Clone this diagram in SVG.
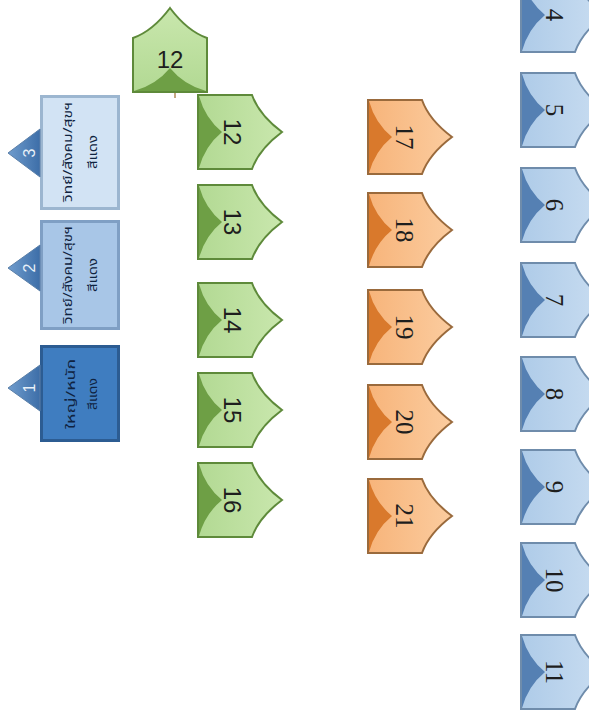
<svg xmlns="http://www.w3.org/2000/svg" xmlns:xlink="http://www.w3.org/1999/xlink" width="589" height="711" viewBox="0 0 589 711">
<style>
  .g-body{fill:url(#gG);stroke:#5e8a3a;stroke-width:2}
  .g-fold{fill:#6e9f45}
  .o-body{fill:url(#gO);stroke:#9a6a3c;stroke-width:2}
  .o-fold{fill:#d9792c}
  .b-body{fill:url(#gB);stroke:#6f8cab;stroke-width:2}
  .b-fold{fill:#5580b3}
  .num-sans{font-family:"Liberation Sans",Arial,sans-serif;font-size:24px;fill:#1e1e1e;text-anchor:middle;dominant-baseline:central}
  .num-serif{font-family:"Liberation Serif","Times New Roman",serif;font-size:25px;fill:#1e1e1e;text-anchor:middle;dominant-baseline:central}
  .thai{font-family:"Noto Sans","Noto Sans Thai","DejaVu Sans",sans-serif;font-size:12px;fill:#0f2340;text-anchor:middle;dominant-baseline:central}
  .tri{fill:url(#gT);stroke:#5a7fa8;stroke-width:1}
  .tri-num{font-family:"Liberation Sans",Arial,sans-serif;font-size:16px;fill:#e8f0f8;text-anchor:middle;dominant-baseline:central}
  .conn{stroke:#b08a5a;stroke-width:1.5;fill:none}
</style>
<defs>
  <linearGradient id="gG" x1="0" y1="0" x2="0" y2="1">
    <stop offset="0" stop-color="#c9e7ad"/>
    <stop offset="1" stop-color="#b2d993"/>
  </linearGradient>
  <linearGradient id="gO" x1="0" y1="0" x2="0" y2="1">
    <stop offset="0" stop-color="#fbcc9f"/>
    <stop offset="1" stop-color="#f7b47a"/>
  </linearGradient>
  <linearGradient id="gB" x1="0" y1="0" x2="0" y2="1">
    <stop offset="0" stop-color="#c9ddf1"/>
    <stop offset="1" stop-color="#aecbe8"/>
  </linearGradient>
  <linearGradient id="gT" x1="0" y1="0" x2="1" y2="0">
    <stop offset="0" stop-color="#6f9ccd"/>
    <stop offset="1" stop-color="#3d6ea8"/>
  </linearGradient>
  <path id="tag" d="M0,-42 C9,-30 20,-18 37,-12 L37,42 L-37,42 L-37,-12 C-20,-18 -9,-30 0,-42 Z"/>
  <path id="fold" d="M-36,41 Q-14,35 0,18 Q14,35 36,41 Z"/>
</defs>

<g id="connectors">
  <line class="conn" x1="175" y1="91" x2="175" y2="98"/>
</g>

<!-- left boxes -->
<g id="box3">
  <rect x="40" y="95" width="80" height="115" fill="#9cb6d0"/>
  <rect x="43" y="98" width="74" height="109" fill="#d2e3f4"/>
  <polygon class="tri" points="8,153 40,129 40,177"/>
  <text class="tri-num" transform="translate(29,153) rotate(-90)">3</text>
  <text class="thai" transform="translate(67,152) rotate(-90)" textLength="100" lengthAdjust="spacingAndGlyphs">วิทย์/สังคม/สุขฯ</text>
  <text class="thai" transform="translate(92,152) rotate(-90)" textLength="34" lengthAdjust="spacingAndGlyphs">สีแดง</text>
</g>
<g id="box2">
  <rect x="40" y="220" width="80" height="110" fill="#7f9fc4"/>
  <rect x="43" y="223" width="74" height="104" fill="#a8c6e7"/>
  <polygon class="tri" points="8,268 40,245 40,291"/>
  <text class="tri-num" transform="translate(29,268) rotate(-90)">2</text>
  <text class="thai" transform="translate(67,275) rotate(-90)" textLength="98" lengthAdjust="spacingAndGlyphs">วิทย์/สังคม/สุขฯ</text>
  <text class="thai" transform="translate(92,275) rotate(-90)" textLength="34" lengthAdjust="spacingAndGlyphs">สีแดง</text>
</g>
<g id="box1">
  <rect x="40" y="345" width="80" height="97" fill="#2c5c92"/>
  <rect x="43" y="348" width="74" height="91" fill="#3f7dc0"/>
  <polygon class="tri" points="8,388 40,365 40,411"/>
  <text class="tri-num" transform="translate(29,388) rotate(-90)">1</text>
  <text class="thai" transform="translate(70,394) rotate(-90)" textLength="70" lengthAdjust="spacingAndGlyphs">ใหญ่/หนัก</text>
  <text class="thai" transform="translate(92,394) rotate(-90)" textLength="32" lengthAdjust="spacingAndGlyphs">สีแดง</text>
</g>

<!-- top green -->
<g id="g12top" transform="translate(170,50)">
  <use href="#tag" class="g-body"/><use href="#fold" class="g-fold"/>
  <text class="num-sans" x="0" y="9">12</text>
</g>

<!-- green column -->
<g id="g12" transform="translate(240,132) rotate(90)">
  <use href="#tag" class="g-body"/><use href="#fold" class="g-fold"/>
  <text class="num-sans" x="0" y="8">12</text>
</g>
<g id="g13" transform="translate(240,222) rotate(90)">
  <use href="#tag" class="g-body"/><use href="#fold" class="g-fold"/>
  <text class="num-sans" x="0" y="8">13</text>
</g>
<g id="g14" transform="translate(240,320) rotate(90)">
  <use href="#tag" class="g-body"/><use href="#fold" class="g-fold"/>
  <text class="num-sans" x="0" y="8">14</text>
</g>
<g id="g15" transform="translate(240,410) rotate(90)">
  <use href="#tag" class="g-body"/><use href="#fold" class="g-fold"/>
  <text class="num-sans" x="0" y="8">15</text>
</g>
<g id="g16" transform="translate(240,500) rotate(90)">
  <use href="#tag" class="g-body"/><use href="#fold" class="g-fold"/>
  <text class="num-sans" x="0" y="8">16</text>
</g>

<!-- orange column -->
<g id="o17" transform="translate(410,137) rotate(90)">
  <use href="#tag" class="o-body"/><use href="#fold" class="o-fold"/>
  <text class="num-serif" x="0" y="6">17</text>
</g>
<g id="o18" transform="translate(410,230) rotate(90)">
  <use href="#tag" class="o-body"/><use href="#fold" class="o-fold"/>
  <text class="num-serif" x="0" y="6">18</text>
</g>
<g id="o19" transform="translate(410,327) rotate(90)">
  <use href="#tag" class="o-body"/><use href="#fold" class="o-fold"/>
  <text class="num-serif" x="0" y="6">19</text>
</g>
<g id="o20" transform="translate(410,422) rotate(90)">
  <use href="#tag" class="o-body"/><use href="#fold" class="o-fold"/>
  <text class="num-serif" x="0" y="6">20</text>
</g>
<g id="o21" transform="translate(410,516) rotate(90)">
  <use href="#tag" class="o-body"/><use href="#fold" class="o-fold"/>
  <text class="num-serif" x="0" y="6">21</text>
</g>

<!-- blue column -->
<g id="b4" transform="translate(563,15) rotate(90)">
  <use href="#tag" class="b-body"/><use href="#fold" class="b-fold"/>
  <text class="num-serif" x="0" y="9">4</text>
</g>
<g id="b5" transform="translate(563,110) rotate(90)">
  <use href="#tag" class="b-body"/><use href="#fold" class="b-fold"/>
  <text class="num-serif" x="0" y="9">5</text>
</g>
<g id="b6" transform="translate(563,205) rotate(90)">
  <use href="#tag" class="b-body"/><use href="#fold" class="b-fold"/>
  <text class="num-serif" x="0" y="9">6</text>
</g>
<g id="b7" transform="translate(563,300) rotate(90)">
  <use href="#tag" class="b-body"/><use href="#fold" class="b-fold"/>
  <text class="num-serif" x="0" y="9">7</text>
</g>
<g id="b8" transform="translate(563,394) rotate(90)">
  <use href="#tag" class="b-body"/><use href="#fold" class="b-fold"/>
  <text class="num-serif" x="0" y="9">8</text>
</g>
<g id="b9" transform="translate(563,487) rotate(90)">
  <use href="#tag" class="b-body"/><use href="#fold" class="b-fold"/>
  <text class="num-serif" x="0" y="9">9</text>
</g>
<g id="b10" transform="translate(563,580) rotate(90)">
  <use href="#tag" class="b-body"/><use href="#fold" class="b-fold"/>
  <text class="num-serif" x="0" y="9">10</text>
</g>
<g id="b11" transform="translate(563,672) rotate(90)">
  <use href="#tag" class="b-body"/><use href="#fold" class="b-fold"/>
  <text class="num-serif" x="0" y="9">11</text>
</g>
</svg>
